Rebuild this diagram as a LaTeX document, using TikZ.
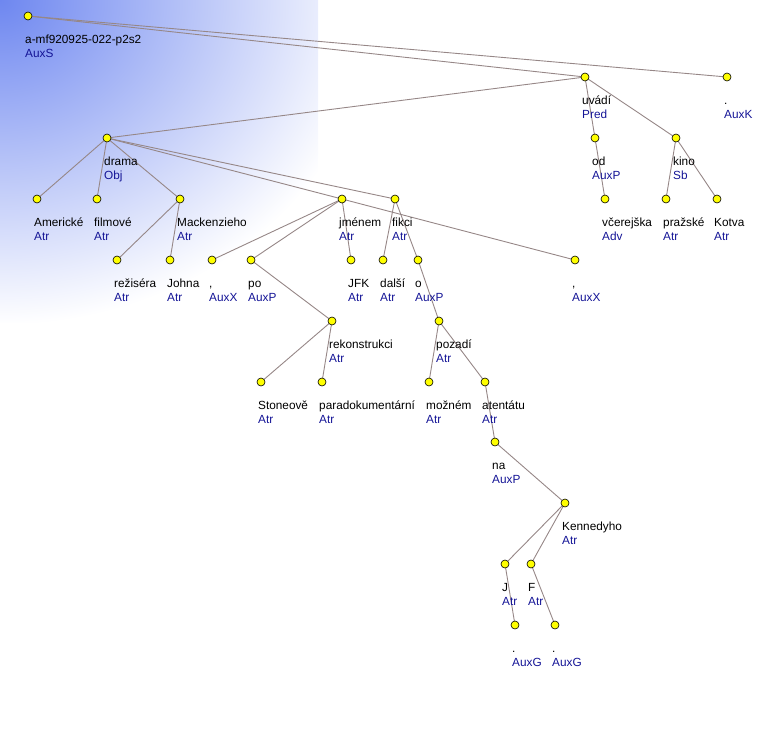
\documentclass[tikz,border=0pt]{standalone}
\usepackage{fontspec}
\setmainfont{Liberation Sans}
\usetikzlibrary{calc,backgrounds}
\definecolor{EdgeGrey}{RGB}{150,135,135}
\definecolor{FuncBlue}{RGB}{20,20,150}
\definecolor{DotYellow}{RGB}{255,255,0}
\definecolor{CornerBlue}{RGB}{110,135,240}
\pgfdeclareradialshading{cornerglow}{\pgfpoint{0bp}{0bp}}{%
  color(0bp)=(CornerBlue); color(25bp)=(white); color(50bp)=(white)}
\tikzset{
  dot/.style={circle,draw=black,fill=DotYellow,line width=0.6pt,
              minimum size=8pt,inner sep=0pt},
  wlbl/.style={anchor=base west,inner sep=0pt,
               font=\fontsize{11.8}{14}\selectfont},
  flbl/.style={wlbl,text=FuncBlue},
  dep/.style={draw=EdgeGrey,line width=0.9pt},
}
% tree node: name, position, word form, function
\newcommand{\tnode}[4]{%
  \node[dot] (#1) at (#2) {};
  \node[wlbl] (#1-w) at ($(#1)+(-3,27)$) {#3};
  \node[flbl] (#1-f) at ($(#1)+(-3,41)$) {#4};
}

\begin{document}
\begin{tikzpicture}[x=1pt,y=-1pt]
  \useasboundingbox (0,0) rectangle (780,734);

  \tnode{root}{28,16}{a-mf920925-022-p2s2}{AuxS}
  \tnode{uvadi}{585,77}{uvádí}{Pred}
  \tnode{auxk}{727,77}{.}{AuxK}
  \tnode{drama}{107,138}{drama}{Obj}
  \tnode{od}{595,138}{od}{AuxP}
  \tnode{kino}{676,138}{kino}{Sb}
  \tnode{americke}{37,199}{Americké}{Atr}
  \tnode{filmove}{97,199}{filmové}{Atr}
  \tnode{mack}{180,199}{Mackenzieho}{Atr}
  \tnode{jmenem}{342,199}{jménem}{Atr}
  \tnode{fikci}{395,199}{fikci}{Atr}
  \tnode{vcerejska}{605,199}{včerejška}{Adv}
  \tnode{prazske}{666,199}{pražské}{Atr}
  \tnode{kotva}{717,199}{Kotva}{Atr}
  \tnode{rezisera}{117,260}{režiséra}{Atr}
  \tnode{johna}{170,260}{Johna}{Atr}
  \tnode{carka1}{212,260}{,}{AuxX}
  \tnode{po}{251,260}{po}{AuxP}
  \tnode{jfk}{351,260}{JFK}{Atr}
  \tnode{dalsi}{383,260}{další}{Atr}
  \tnode{o}{418,260}{o}{AuxP}
  \tnode{carka2}{575,260}{,}{AuxX}
  \tnode{rekon}{332,321}{rekonstrukci}{Atr}
  \tnode{pozadi}{439,321}{pozadí}{Atr}
  \tnode{stoneove}{261,382}{Stoneově}{Atr}
  \tnode{parado}{322,382}{paradokumentární}{Atr}
  \tnode{moznem}{429,382}{možném}{Atr}
  \tnode{atentatu}{485,382}{atentátu}{Atr}
  \tnode{na}{495,442}{na}{AuxP}
  \tnode{kenn}{565,503}{Kennedyho}{Atr}
  \tnode{j}{505,564}{J}{Atr}
  \tnode{f}{531,564}{F}{Atr}
  \tnode{teckaj}{515,625}{.}{AuxG}
  \tnode{teckaf}{555,625}{.}{AuxG}

  \begin{scope}[on background layer]
    \begin{scope}
      \clip (0,0) rectangle (318,322);
      \shade[shading=cornerglow] (0,0) ellipse (375 and 325);
    \end{scope}
    \draw[dep] (root.center) -- (uvadi.center);
    \draw[dep] (root.center) -- (auxk.center);
    \draw[dep] (uvadi.center) -- (drama.center);
    \draw[dep] (uvadi.center) -- (od.center);
    \draw[dep] (uvadi.center) -- (kino.center);
    \draw[dep] (od.center) -- (vcerejska.center);
    \draw[dep] (kino.center) -- (prazske.center);
    \draw[dep] (kino.center) -- (kotva.center);
    \draw[dep] (drama.center) -- (americke.center);
    \draw[dep] (drama.center) -- (filmove.center);
    \draw[dep] (drama.center) -- (mack.center);
    \draw[dep] (drama.center) -- (jmenem.center);
    \draw[dep] (drama.center) -- (fikci.center);
    \draw[dep] (mack.center) -- (rezisera.center);
    \draw[dep] (mack.center) -- (johna.center);
    \draw[dep] (jmenem.center) -- (carka1.center);
    \draw[dep] (jmenem.center) -- (po.center);
    \draw[dep] (jmenem.center) -- (jfk.center);
    \draw[dep] (jmenem.center) -- (carka2.center);
    \draw[dep] (po.center) -- (rekon.center);
    \draw[dep] (rekon.center) -- (stoneove.center);
    \draw[dep] (rekon.center) -- (parado.center);
    \draw[dep] (fikci.center) -- (dalsi.center);
    \draw[dep] (fikci.center) -- (o.center);
    \draw[dep] (o.center) -- (pozadi.center);
    \draw[dep] (pozadi.center) -- (moznem.center);
    \draw[dep] (pozadi.center) -- (atentatu.center);
    \draw[dep] (atentatu.center) -- (na.center);
    \draw[dep] (na.center) -- (kenn.center);
    \draw[dep] (kenn.center) -- (j.center);
    \draw[dep] (kenn.center) -- (f.center);
    \draw[dep] (j.center) -- (teckaj.center);
    \draw[dep] (f.center) -- (teckaf.center);
  \end{scope}
\end{tikzpicture}
\end{document}
